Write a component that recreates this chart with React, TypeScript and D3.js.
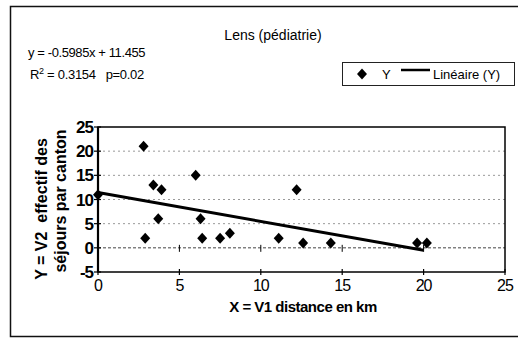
import React from "react";
import * as d3 from "d3";

const xValues = [0, 2.8, 2.9, 3.4, 3.9, 3.7, 6.0, 6.3, 6.4, 7.5, 8.1, 11.1, 12.2, 12.6, 14.3, 19.6, 20.2];
const yValues = [11, 21, 2, 13, 12, 6, 15, 6, 2, 2, 3, 2, 12, 1, 1, 1, 1];
const xTicks = [0, 5, 10, 15, 20, 25];
const yTicks = [-5, 0, 5, 10, 15, 20, 25];
const slope = -0.5985;
const intercept = 11.455;
const fitRange = [0, 20];

const W = 518;
const H = 338;
const font = "'Liberation Sans', Arial, sans-serif";
const diamond = "M0,-5.5L5,0L0,5.5L-5,0Z";

export default function App() {
  const x = d3.scaleLinear().domain([0, 25]).range([98, 505]);
  const y = d3.scaleLinear().domain([-5, 25]).range([272, 127]);
  const fitLine = d3
    .line<number>()
    .x((d) => x(d))
    .y((d) => y(slope * d + intercept))(fitRange);

  return (
    <svg
      width={W}
      height={H}
      style={{ position: "absolute", left: 0, top: 0, background: "#fff" }}
      fontFamily={font}
    >
      <rect x={0} y={0} width={W} height={H} fill="#fff" />
      {/* outer frame */}
      <rect x={10.5} y={6.5} width={520} height={330} fill="none" stroke="#111" strokeWidth={1.5} />

      {/* title */}
      <text x={273} y={40} textAnchor="middle" fontSize={14} fill="#000">
        Lens (pédiatrie)
      </text>
      <text x={28} y={57} fontSize={13} fill="#000" letterSpacing={-0.4}>
        y = -0.5985x + 11.455
      </text>
      <text x={30} y={79} fontSize={13} fill="#000" letterSpacing={-0.3} style={{ whiteSpace: "pre" }}>
        R<tspan dy={-5} fontSize={9}>2</tspan>
        <tspan dy={5}>{" = 0.3154   p=0.02"}</tspan>
      </text>

      {/* legend */}
      <rect x={342.5} y={62.5} width={172} height={23} fill="#fff" stroke="#222" strokeWidth={1} />
      <path d={diamond} transform="translate(362,74)" fill="#000" />
      <text x={382} y={79} fontSize={13} fill="#000">
        Y
      </text>
      <line x1={401} x2={430} y1={70} y2={70} stroke="#000" strokeWidth={2.5} />
      <text x={433} y={79} fontSize={13} fill="#000">
        Linéaire (Y)
      </text>

      {/* gridlines */}
      {yTicks
        .filter((t) => t > -5 && t < 25)
        .map((t) => (
          <line
            key={"g" + t}
            x1={x(0)}
            x2={x(25)}
            y1={y(t)}
            y2={y(t)}
            stroke={t === 0 ? "#444" : "#999"}
            strokeWidth={1}
            strokeDasharray={t === 0 ? "3,2" : "2,3"}
          />
        ))}
      {/* cross ticks on y=0 axis */}
      {xTicks
        .filter((t) => t > 0 && t < 25)
        .map((t) => (
          <line key={"xc" + t} x1={x(t)} x2={x(t)} y1={y(0) - 3} y2={y(0) + 4} stroke="#000" strokeWidth={1} />
        ))}

      {/* plot frame */}
      <rect
        x={x(0)}
        y={y(25)}
        width={x(25) - x(0)}
        height={y(-5) - y(25)}
        fill="none"
        stroke="#000"
        strokeWidth={1.5}
      />
      <line x1={x(0)} x2={x(0)} y1={y(25)} y2={y(-5)} stroke="#000" strokeWidth={2.2} />
      {yTicks.map((t) => (
        <line key={"yt" + t} x1={x(0) - 4} x2={x(0) + 3} y1={y(t)} y2={y(t)} stroke="#000" strokeWidth={1.2} />
      ))}
      {xTicks.map((t) => (
        <line key={"xt" + t} x1={x(t)} x2={x(t)} y1={y(-5) - 3} y2={y(-5) + 3} stroke="#000" strokeWidth={1.2} />
      ))}

      {/* tick labels */}
      {yTicks.map((t) => (
        <text
          key={"yl" + t}
          x={93}
          y={y(t) + 6}
          textAnchor="end"
          fontSize={17}
          fontWeight="bold"
          fill="#000"
          letterSpacing={-1}
        >
          {t}
        </text>
      ))}
      {xTicks.map((t) => (
        <text
          key={"xl" + t}
          x={x(t)}
          y={291}
          textAnchor="middle"
          fontSize={16}
          fill="#000"
          letterSpacing={-1}
        >
          {t}
        </text>
      ))}

      {/* fit line */}
      <path d={fitLine || ""} fill="none" stroke="#000" strokeWidth={3} />

      {/* points */}
      {xValues.map((xv, i) => (
        <path key={"p" + i} d={diamond} transform={`translate(${x(xv)},${y(yValues[i])})`} fill="#000" />
      ))}

      {/* axis titles */}
      <text x={303} y={312} textAnchor="middle" fontSize={15} fontWeight="bold" fill="#000" letterSpacing={-0.5}>
        X = V1 distance en km
      </text>
      <text
        transform="translate(47,209) rotate(-90)"
        textAnchor="middle"
        fontSize={16}
        fontWeight="bold"
        fill="#000"
        style={{ whiteSpace: "pre" }}
      >
        {"Y = V2  effectif des"}
      </text>
      <text
        transform="translate(66,201) rotate(-90)"
        textAnchor="middle"
        fontSize={16}
        fontWeight="bold"
        fill="#000"
      >
        séjours par canton
      </text>
    </svg>
  );
}
